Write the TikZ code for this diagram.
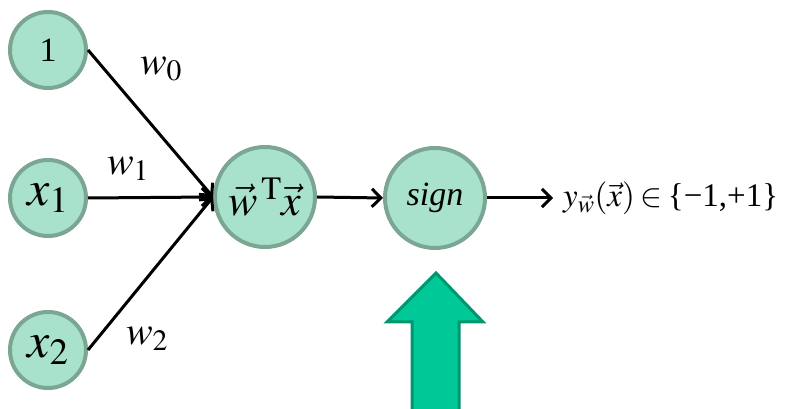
\documentclass[tikz,border=0pt]{standalone}
\usepackage{mathptmx}
\usepackage{fontspec}
\setmainfont{Liberation Serif}
\usetikzlibrary{arrows.meta}
\definecolor{nodefill}{RGB}{168,226,204}
\definecolor{nodeline}{RGB}{124,166,148}
\definecolor{bigfill}{RGB}{0,200,150}
\definecolor{bigline}{RGB}{0,150,112}
\tikzset{
  neuron/.style={circle, draw=nodeline, fill=nodefill, line width=4pt, inner sep=0pt, minimum size=76pt},
  bigneuron/.style={neuron, minimum size=100pt},
  conn/.style={line width=3pt, -{Straight Barb[length=9pt,width=18pt,line width=3pt]}},
  wlabel/.style={inner sep=0pt, font=\fontsize{40}{44}\selectfont}
}
\begin{document}
\begin{tikzpicture}[x=1pt,y=1pt]
\useasboundingbox (0,0) rectangle (787,409);
\node[neuron, font=\fontsize{34}{38}\selectfont] (n1) at (48,359) {1};
\node[neuron, font=\fontsize{50}{54}\selectfont] (x1) at (48,211) {$x_1$};
\node[neuron, font=\fontsize{50}{54}\selectfont] (x2) at (48,59) {$x_2$};
\node[bigneuron, font=\fontsize{44}{48}\selectfont] (sum) at (265,212) {$\vec{w}^{\,\mathrm{T}}\vec{x}$};
\node[bigneuron, font=\fontsize{34}{38}\selectfont\itshape] (sign) at (435,211) {sign};
\node[anchor=west, inner sep=0pt, font=\fontsize{33}{38}\selectfont] (out) at (563,211) {$y_{\vec{w}}(\vec{x})\mkern-1mu\in$\,\{−1,+1\}};
\coordinate (outend) at (553,211);
\draw[conn] (n1.east) -- (sum.west);
\draw[conn] (x1.east) -- (sum.west);
\draw[conn] (x2.east) -- (sum.west);
\draw[conn] (sum.east) -- (sign.west);
\draw[conn] (sign.east) -- (outend);
\node[wlabel] (w0) at (161,340) {$w_0$};
\node[wlabel] (w1) at (128,240) {$w_1$};
\node[wlabel] (w2) at (147,70) {$w_2$};
\draw[line width=3pt, draw=bigline, fill=bigfill, line join=miter]
  (436,136) -- (483,87) -- (459,87) -- (459,-4) -- (412,-4) -- (412,87) -- (387,87) -- cycle;
\end{tikzpicture}
\end{document}
